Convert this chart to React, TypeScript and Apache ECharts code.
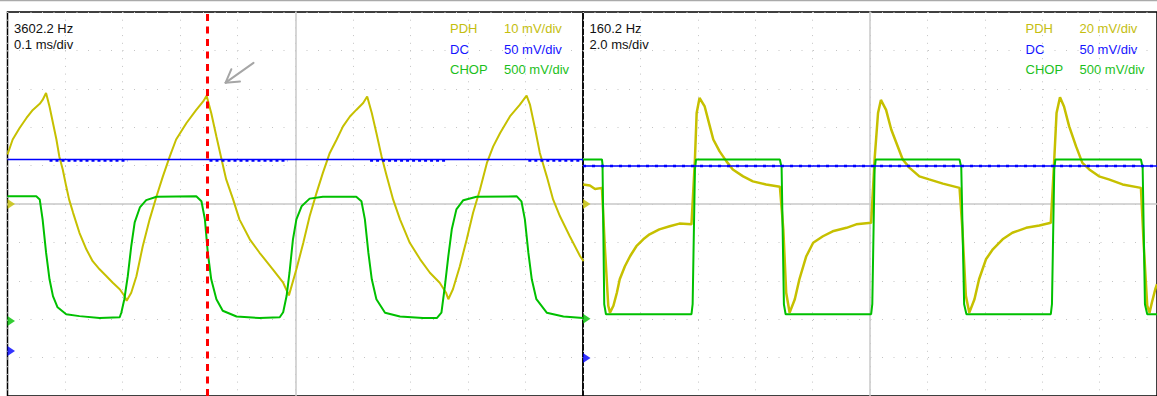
import { useEffect, useRef } from "react";
import * as echarts from "echarts";

// Units: screen divisions (x: -5..5, y: -5..5)
// Left screen: 0.1 ms/div
const pdhFast: [number, number][] = [
  [-5.0, 1.29], [-4.91, 1.68], [-4.79, 1.98], [-4.67, 2.24], [-4.56, 2.45], [-4.44, 2.61], [-4.39, 2.71], [-4.33, 2.89],
  [-4.27, 2.54], [-4.21, 2.11], [-4.15, 1.68], [-4.1, 1.24], [-4.04, 0.9], [-3.98, 0.46], [-3.93, 0.12], [-3.86, -0.23],
  [-3.75, -0.75], [-3.63, -1.18], [-3.52, -1.49], [-3.4, -1.7], [-3.28, -1.88], [-3.17, -2.05], [-3.05, -2.22], [-2.97, -2.39],
  [-2.93, -2.52], [-2.85, -2.31], [-2.76, -1.88], [-2.65, -1.1], [-2.53, -0.4], [-2.41, 0.2], [-2.3, 0.72], [-2.18, 1.24],
  [-2.07, 1.68], [-1.89, 2.11], [-1.72, 2.45], [-1.6, 2.67], [-1.54, 2.82], [-1.46, 2.37], [-1.37, 1.76], [-1.28, 1.16],
  [-1.2, 0.64], [-1.08, 0.12], [-0.97, -0.4], [-0.79, -0.92], [-0.62, -1.27], [-0.39, -1.7], [-0.21, -2.05], [-0.11, -2.38],
  [0.02, -1.7], [0.14, -1.01], [0.25, -0.32], [0.37, 0.29], [0.48, 0.81], [0.6, 1.33], [0.72, 1.68], [0.83, 2.02],
  [0.95, 2.28], [1.06, 2.45], [1.18, 2.63], [1.25, 2.8], [1.33, 2.37], [1.41, 1.85], [1.5, 1.24], [1.59, 0.72],
  [1.7, 0.12], [1.82, -0.4], [1.99, -1.01], [2.17, -1.44], [2.34, -1.79], [2.51, -2.05], [2.62, -2.31], [2.66, -2.48],
  [2.74, -2.22], [2.86, -1.62], [2.98, -0.92], [3.09, -0.23], [3.21, 0.38], [3.33, 1.07], [3.44, 1.5], [3.56, 1.85],
  [3.73, 2.28], [3.9, 2.58], [4.02, 2.82], [4.08, 2.58], [4.17, 1.94], [4.25, 1.33], [4.37, 0.72], [4.48, 0.12],
  [4.6, -0.32], [4.77, -0.84], [4.95, -1.36], [5.01, -1.49],
];
const chopFast: [number, number][] = [
  [-5.0, 0.2], [-4.5, 0.2], [-4.44, 0.12], [-4.39, -0.4], [-4.33, -1.26], [-4.27, -1.96], [-4.21, -2.4], [-4.13, -2.69],
  [-3.98, -2.87], [-3.75, -2.92], [-3.4, -2.97], [-3.05, -2.95], [-3.02, -2.82], [-2.97, -2.48], [-2.91, -1.88], [-2.85, -1.1],
  [-2.79, -0.48], [-2.7, -0.09], [-2.59, 0.1], [-2.41, 0.19], [-1.72, 0.2], [-1.63, 0.07], [-1.57, -0.4], [-1.52, -1.26],
  [-1.46, -1.96], [-1.37, -2.48], [-1.26, -2.78], [-1.02, -2.93], [-0.62, -2.97], [-0.27, -2.95], [-0.21, -2.82], [-0.15, -2.39],
  [-0.1, -1.79], [-0.04, -0.92], [0.02, -0.4], [0.11, -0.06], [0.25, 0.14], [0.48, 0.19], [1.06, 0.19], [1.15, 0.07],
  [1.21, -0.4], [1.27, -1.26], [1.33, -1.96], [1.41, -2.48], [1.56, -2.83], [1.82, -2.93], [2.22, -2.97], [2.46, -2.97],
  [2.54, -2.83], [2.6, -2.14], [2.66, -1.36], [2.72, -0.66], [2.8, -0.14], [2.92, 0.1], [3.15, 0.19], [3.85, 0.2],
  [3.93, 0.07], [3.99, -0.4], [4.05, -1.26], [4.11, -1.96], [4.19, -2.48], [4.37, -2.83], [4.66, -2.93], [5.0, -2.97],
];
const dcFast: [number, number][] = [[-5.0, 1.16], [5.0, 1.16]];
const dcFastNoisySpans: [number, number][] = [[-4.27, -2.91], [-1.49, -0.13], [1.3, 2.63], [4.05, 5.0]];
const dcFastNoisyLevel = 1.13;

// Right screen: 2.0 ms/div
const pdhSlow: [number, number][] = [
  [-5.0, 0.51], [-4.88, 0.48], [-4.79, 0.39], [-4.67, 0.42], [-4.62, -1.1], [-4.56, -2.65], [-4.53, -2.83], [-4.47, -2.65],
  [-4.41, -2.31], [-4.36, -1.96], [-4.27, -1.62], [-4.18, -1.36], [-4.07, -1.1], [-3.95, -0.92], [-3.84, -0.79], [-3.67, -0.66],
  [-3.49, -0.58], [-3.32, -0.51], [-3.11, -0.53], [-3.05, 1.16], [-3.02, 2.37], [-2.97, 2.76], [-2.88, 2.54], [-2.79, 2.02],
  [-2.73, 1.68], [-2.62, 1.37], [-2.5, 1.11], [-2.39, 0.9], [-2.21, 0.72], [-2.04, 0.59], [-1.81, 0.51], [-1.57, 0.45],
  [-1.51, -0.66], [-1.46, -2.31], [-1.4, -2.83], [-1.31, -2.48], [-1.23, -1.96], [-1.11, -1.36], [-0.99, -1.01], [-0.82, -0.84],
  [-0.65, -0.71], [-0.41, -0.62], [-0.24, -0.53], [0.02, -0.49], [0.08, 1.16], [0.14, 2.37], [0.19, 2.71], [0.28, 2.45],
  [0.37, 1.94], [0.46, 1.59], [0.57, 1.16], [0.69, 0.94], [0.86, 0.72], [1.03, 0.64], [1.27, 0.53], [1.56, 0.42],
  [1.61, -0.66], [1.67, -2.39], [1.73, -2.83], [1.82, -2.48], [1.9, -1.96], [2.02, -1.44], [2.14, -1.18], [2.31, -0.92],
  [2.48, -0.75], [2.72, -0.62], [2.95, -0.56], [3.15, -0.49], [3.21, 1.16], [3.25, 2.37], [3.31, 2.78], [3.38, 2.54],
  [3.47, 2.02], [3.59, 1.5], [3.7, 1.07], [3.82, 0.9], [3.99, 0.72], [4.16, 0.64], [4.4, 0.51], [4.72, 0.42],
  [4.77, -1.1], [4.83, -2.65], [4.87, -2.83], [4.91, -2.57], [4.97, -2.22], [5.0, -2.09],
];
const chopSlow: [number, number][] = [
  [-5.0, 1.16], [-4.67, 1.16], [-4.66, 1.03], [-4.63, -2.61], [-4.6, -2.87], [-3.11, -2.87], [-3.09, -2.61], [-3.05, 0.9],
  [-3.03, 1.16], [-1.57, 1.16], [-1.54, 0.95], [-1.5, -2.61], [-1.47, -2.87], [0.02, -2.87], [0.04, -2.61], [0.08, 0.9],
  [0.1, 1.16], [1.56, 1.16], [1.59, 0.95], [1.64, -2.61], [1.68, -2.87], [3.15, -2.87], [3.17, -2.61], [3.21, 0.9],
  [3.23, 1.16], [4.72, 1.16], [4.75, 0.95], [4.79, -2.61], [4.83, -2.87], [5.0, -2.87],
];
const dcSlow: [number, number][] = [[-5.0, 0.99], [5.0, 0.99]];

// Channel ground markers (PDH, DC, CHOP)
const markerLevelsFast = [0, -3.83, -3.05];
const markerLevelsSlow = [0, -4.01, -2.99];

// Cursor and arrow annotation on left screen
const cursorFast = -1.53;
const arrowShaft: [number, number][] = [[-0.725, 3.675], [-1.21, 3.16]];
const arrowBarbs: [number, number][] = [[-1.11, 3.51], [-0.96, 3.19]];

// Texts
const freqLabels = ["3602.2 Hz", "160.2 Hz"];
const timebaseLabels = ["0.1 ms/div", "2.0 ms/div"];
const channelNames = ["PDH", "DC", "CHOP"];
const scaleFast = ["10 mV/div", "50 mV/div", "500 mV/div"];
const scaleSlow = ["20 mV/div", "50 mV/div", "500 mV/div"];

const YELLOW = "#c6c000";
const BLUE = "#0000ff";
const GREEN = "#00c000";
const channelColors = [YELLOW, BLUE, GREEN];
const textColors = ["#c4be10", "#1414ff", "#1cbf1c"];
const FONT = '13px "Liberation Sans", Arial, sans-serif';

function noisyData(spans: [number, number][], level: number) {
  const out: any[] = [];
  spans.forEach(([a, b]) => {
    out.push([a, level], [b, level], [b, "-"]);
  });
  return out;
}

export default function App() {
  const ref = useRef<HTMLDivElement>(null);
  useEffect(() => {
    const chart = echarts.init(ref.current!, null, { renderer: "svg" });
    const panelLeft = [7.5, 583];
    const axisX = (i: number) => ({
      type: "value",
      gridIndex: i,
      min: -5,
      max: 5,
      interval: 1,
      axisLine: { show: true, onZero: true, lineStyle: { color: "#c8c8c8", width: 1.5 } },
      axisTick: { show: false },
      axisLabel: { show: false },
      splitLine: { show: true, lineStyle: { color: "#c4c4c4", width: 1, type: [1, 6.7] } },
    });
    const axisY = (i: number) => ({
      type: "value",
      gridIndex: i,
      min: -5,
      max: 5,
      interval: 1,
      axisLine: { show: true, onZero: true, lineStyle: { color: "#c8c8c8", width: 1.5 } },
      axisTick: { show: false },
      axisLabel: { show: false },
      splitLine: { show: true, lineStyle: { color: "#c4c4c4", width: 1, type: [1, 10.5] } },
    });
    const line = (i: number, name: string, data: any[], color: string, width: number, extra: any = {}) => ({
      type: "line",
      name,
      xAxisIndex: i,
      yAxisIndex: i,
      data,
      symbol: "none",
      showSymbol: false,
      silent: true,
      connectNulls: false,
      lineStyle: { color, width, ...(extra.lineStyle || {}) },
      z: extra.z ?? 2,
      markLine: extra.markLine,
    });
    const markers = (i: number, levels: number[]) => ({
      type: "scatter",
      xAxisIndex: i,
      yAxisIndex: i,
      clip: false,
      silent: true,
      symbol: "triangle",
      symbolRotate: -90,
      symbolSize: [10, 7.5],
      symbolOffset: [3.75, 0],
      z: 6,
      data: levels.map((v, k) => ({ value: [-5, v], itemStyle: { color: channelColors[k] } })),
    });

    const texts: any[] = [];
    [0, 1].forEach((p) => {
      const x0 = panelLeft[p];
      texts.push({
        type: "text",
        x: x0 + 6.5,
        y: 28.6,
        style: { text: freqLabels[p], fill: "#111", font: FONT, verticalAlign: "middle", align: "left" },
      });
      texts.push({
        type: "text",
        x: x0 + 6.5,
        y: 44.9,
        style: { text: timebaseLabels[p], fill: "#111", font: FONT, verticalAlign: "middle", align: "left" },
      });
      const scales = p === 0 ? scaleFast : scaleSlow;
      channelNames.forEach((n, k) => {
        const y = 28.8 + k * 20.3;
        texts.push({
          type: "text",
          x: x0 + 442.5,
          y,
          style: { text: n, fill: textColors[k], font: FONT, verticalAlign: "middle", align: "left" },
        });
        texts.push({
          type: "text",
          x: x0 + 496.5,
          y,
          style: { text: scales[k], fill: textColors[k], font: FONT, verticalAlign: "middle", align: "left" },
        });
      });
    });
    texts.push({
      type: "line",
      shape: { x1: 0, y1: 0.5, x2: 1157, y2: 0.5 },
      style: { stroke: "#aaaaaa", lineWidth: 1.5 },
    });

    const arrowStyle = { color: "#a6a6a6", width: 2, type: "solid", cap: "round" };
    const option: any = {
      animation: false,
      backgroundColor: "#ffffff",
      grid: [0, 1].map((p) => ({
        left: panelLeft[p],
        top: 12,
        width: 575.5,
        height: 385,
        show: true,
        borderColor: "#000",
        borderWidth: 1.5,
        backgroundColor: "transparent",
      })),
      xAxis: [axisX(0), axisX(1)],
      yAxis: [axisY(0), axisY(1)],
      graphic: texts,
      series: [
        line(0, "PDH", pdhFast, YELLOW, 2, {
          markLine: {
            silent: true,
            symbol: ["none", "none"],
            label: { show: false },
            z: 7,
            data: [
              { xAxis: cursorFast, lineStyle: { color: "#ff0000", width: 3, type: [7, 5.5] } },
              [{ coord: arrowShaft[0], lineStyle: arrowStyle }, { coord: arrowShaft[1] }],
              [{ coord: arrowShaft[1], lineStyle: arrowStyle }, { coord: arrowBarbs[0] }],
              [{ coord: arrowShaft[1], lineStyle: arrowStyle }, { coord: arrowBarbs[1] }],
            ],
          },
        }),
        line(0, "CHOP", chopFast, GREEN, 2),
        line(0, "DC", dcFast, BLUE, 1.5, { z: 3 }),
        line(0, "DC noise", noisyData(dcFastNoisySpans, dcFastNoisyLevel), BLUE, 2.5, { z: 3, lineStyle: { type: [3, 3] } }),
        markers(0, markerLevelsFast),
        line(1, "PDH", pdhSlow, YELLOW, 2.5),
        line(1, "CHOP", chopSlow, GREEN, 2),
        line(1, "DC", dcSlow, BLUE, 1.5, { z: 3 }),
        line(1, "DC noise", dcSlow, BLUE, 2.5, { z: 3, lineStyle: { type: [3, 6] } }),
        markers(1, markerLevelsSlow),
      ],
    };
    chart.setOption(option);
    return () => chart.dispose();
  }, []);
  return (
    <div
      ref={ref}
      style={{ position: "fixed", left: 0, top: 0, width: 1157, height: 396, background: "#fff" }}
    />
  );
}
